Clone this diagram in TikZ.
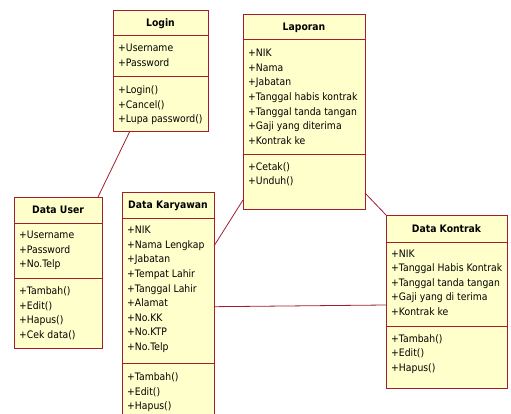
\documentclass[tikz,border=0pt]{standalone}
\usepackage{fontspec}
\setmainfont{DejaVu Sans}[FakeStretch=0.9]
\usetikzlibrary{calc}

\definecolor{umlborder}{RGB}{160,30,45}
\definecolor{umlfill}{RGB}{255,255,204}

\tikzset{
  classbox/.style={draw=umlborder, fill=umlfill, line width=0.9pt,
    inner sep=0pt, outer sep=0pt, anchor=north west},
  divider/.style={draw=umlborder, line width=0.9pt},
  classtitle/.style={font=\bfseries\fontsize{10.3}{12}\selectfont,
    inner sep=0pt, anchor=base},
  member/.style={font=\fontsize{10.3}{12}\selectfont, inner sep=0pt,
    anchor=base west},
  link/.style={draw=umlborder, line width=0.8pt},
}

% one compartment of members: prefix, x, centre of first line, list
\newcommand\memberlist[4]{%
  \foreach \t [count=\i] in {#4}
    \node[member] (#1\i) at (#2, {#3+(\i-1)*14.6+3.7}) {\t};}

\begin{document}
\begin{tikzpicture}[x=1pt, y=-1pt]
\useasboundingbox (0,0) rectangle (511,414);
\clip (0,0) rectangle (511,414);

% Login
\node[classbox, minimum width=95pt, minimum height=121pt] (login) at (113,10) {};
\node[classtitle] (login-t) at (160.5,26.2) {Login};
\draw[divider] (113,35) -- (208,35);
\draw[divider] (113,76) -- (208,76);
\memberlist{login-a}{118}{48}{+Username, +Password}
\memberlist{login-m}{118}{90}{+Login(), +Cancel(), +Lupa password()}

% Laporan
\node[classbox, minimum width=122pt, minimum height=195pt] (lap) at (243,14) {};
\node[classtitle] (lap-t) at (304,30.2) {Laporan};
\draw[divider] (243,39) -- (365,39);
\draw[divider] (243,154) -- (365,154);
\memberlist{lap-a}{248}{53}{+NIK, +Nama, +Jabatan, +Tanggal habis kontrak,
  +Tanggal tanda tangan, +Gaji yang diterima, +Kontrak ke}
\memberlist{lap-m}{248}{166.7}{+Cetak(), +Unduh()}

% Data User
\node[classbox, minimum width=88pt, minimum height=151pt] (user) at (14,197) {};
\node[classtitle] (user-t) at (58,213.7) {Data User};
\draw[divider] (14,223) -- (102,223);
\draw[divider] (14,278) -- (102,278);
\memberlist{user-a}{19}{235}{+Username, +Password, +No.Telp}
\memberlist{user-m}{19}{291}{+Tambah(), +Edit(), +Hapus(), +Cek data()}

% Data Karyawan
\node[classbox, minimum width=92pt, minimum height=232pt] (kar) at (122,192) {};
\node[classtitle] (kar-t) at (168,208.7) {Data Karyawan};
\draw[divider] (122,218) -- (214,218);
\draw[divider] (122,363) -- (214,363);
\memberlist{kar-a}{127}{230}{+NIK, +Nama Lengkap, +Jabatan, +Tempat Lahir,
  +Tanggal Lahir, +Alamat, +No.KK, +No.KTP, +No.Telp}
\memberlist{kar-m}{127}{376.7}{+Tambah(), +Edit(), +Hapus()}

% Data Kontrak
\node[classbox, minimum width=121pt, minimum height=173pt] (kon) at (386,215) {};
\node[classtitle] (kon-t) at (446.5,232.2) {Data Kontrak};
\draw[divider] (386,242) -- (507,242);
\draw[divider] (386,326) -- (507,326);
\memberlist{kon-a}{391}{253.3}{+NIK, +Tanggal Habis Kontrak,
  +Tanggal tanda tangan, +Gaji yang di terima, +Kontrak ke}
\memberlist{kon-m}{391}{338.3}{+Tambah(), +Edit(), +Hapus()}

% associations
\draw[link] ([xshift=17pt]login.south west) -- ([xshift=-4pt]user.north east);
\draw[link] ([yshift=9pt]lap.south west) -- ([yshift=-54pt]kar.north east);
\draw[link] ([yshift=16pt]lap.south east) -- (kon.north west);
\draw[link] ([yshift=-114.7pt]kar.north east) -- ([yshift=-90pt]kon.north west);
\end{tikzpicture}
\end{document}
